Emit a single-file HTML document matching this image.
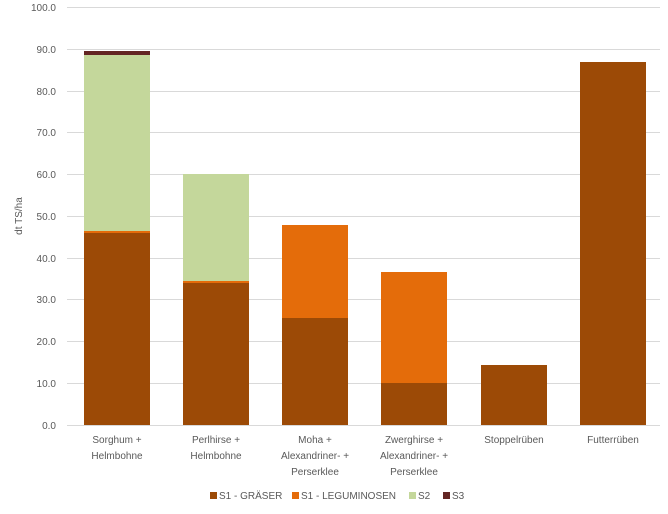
<!DOCTYPE html>
<html><head><style>body{margin:0;background:#fff}</style></head><body>
<svg width="668" height="509" xmlns="http://www.w3.org/2000/svg" font-family="Liberation Sans, sans-serif" font-size="10" fill="#595959">
<g stroke="#d9d9d9" stroke-width="1">
<line x1="67" x2="660" y1="7.5" y2="7.5"/><line x1="67" x2="660" y1="49.5" y2="49.5"/><line x1="67" x2="660" y1="91.5" y2="91.5"/><line x1="67" x2="660" y1="132.5" y2="132.5"/><line x1="67" x2="660" y1="174.5" y2="174.5"/><line x1="67" x2="660" y1="216.5" y2="216.5"/><line x1="67" x2="660" y1="258.5" y2="258.5"/><line x1="67" x2="660" y1="299.5" y2="299.5"/><line x1="67" x2="660" y1="341.5" y2="341.5"/><line x1="67" x2="660" y1="383.5" y2="383.5"/><line x1="67" x2="660" y1="425.5" y2="425.5"/>
</g>
<g text-anchor="end">
<text x="56" y="11">100.0</text><text x="56" y="53">90.0</text><text x="56" y="95">80.0</text><text x="56" y="136">70.0</text><text x="56" y="178">60.0</text><text x="56" y="220">50.0</text><text x="56" y="262">40.0</text><text x="56" y="303">30.0</text><text x="56" y="345">20.0</text><text x="56" y="387">10.0</text><text x="56" y="429">0.0</text>
</g>
<text transform="translate(22,216) rotate(-90)" text-anchor="middle">dt TS/ha</text>
<rect x="84" y="233" width="66" height="192" fill="#9c4a06"/>
<rect x="84" y="231" width="66" height="2" fill="#e46c0a"/>
<rect x="84" y="55" width="66" height="176" fill="#c4d79b"/>
<rect x="84" y="51" width="66" height="4" fill="#632523"/>
<rect x="183" y="283" width="66" height="142" fill="#9c4a06"/>
<rect x="183" y="281" width="66" height="2" fill="#e46c0a"/>
<rect x="183" y="174" width="66" height="107" fill="#c4d79b"/>
<rect x="282" y="318" width="66" height="107" fill="#9c4a06"/>
<rect x="282" y="225" width="66" height="93" fill="#e46c0a"/>
<rect x="381" y="383" width="66" height="42" fill="#9c4a06"/>
<rect x="381" y="272" width="66" height="111" fill="#e46c0a"/>
<rect x="481" y="365" width="66" height="60" fill="#9c4a06"/>
<rect x="580" y="62" width="66" height="363" fill="#9c4a06"/>
<g text-anchor="middle">
<text x="117" y="443">Sorghum +</text><text x="117" y="459">Helmbohne</text>
<text x="216" y="443">Perlhirse +</text><text x="216" y="459">Helmbohne</text>
<text x="315" y="443">Moha +</text><text x="315" y="459">Alexandriner- +</text><text x="315" y="475">Perserklee</text>
<text x="414" y="443">Zwerghirse +</text><text x="414" y="459">Alexandriner- +</text><text x="414" y="475">Perserklee</text>
<text x="514" y="443">Stoppelrüben</text>
<text x="613" y="443">Futterrüben</text>
</g>
<rect x="210" y="492" width="7" height="7" fill="#9c4a06"/><text x="219" y="499">S1 - GRÄSER</text>
<rect x="292" y="492" width="7" height="7" fill="#e46c0a"/><text x="301" y="499">S1 - LEGUMINOSEN</text>
<rect x="409" y="492" width="7" height="7" fill="#c4d79b"/><text x="418" y="499">S2</text>
<rect x="443" y="492" width="7" height="7" fill="#632523"/><text x="452" y="499">S3</text>
</svg>
</body></html>
